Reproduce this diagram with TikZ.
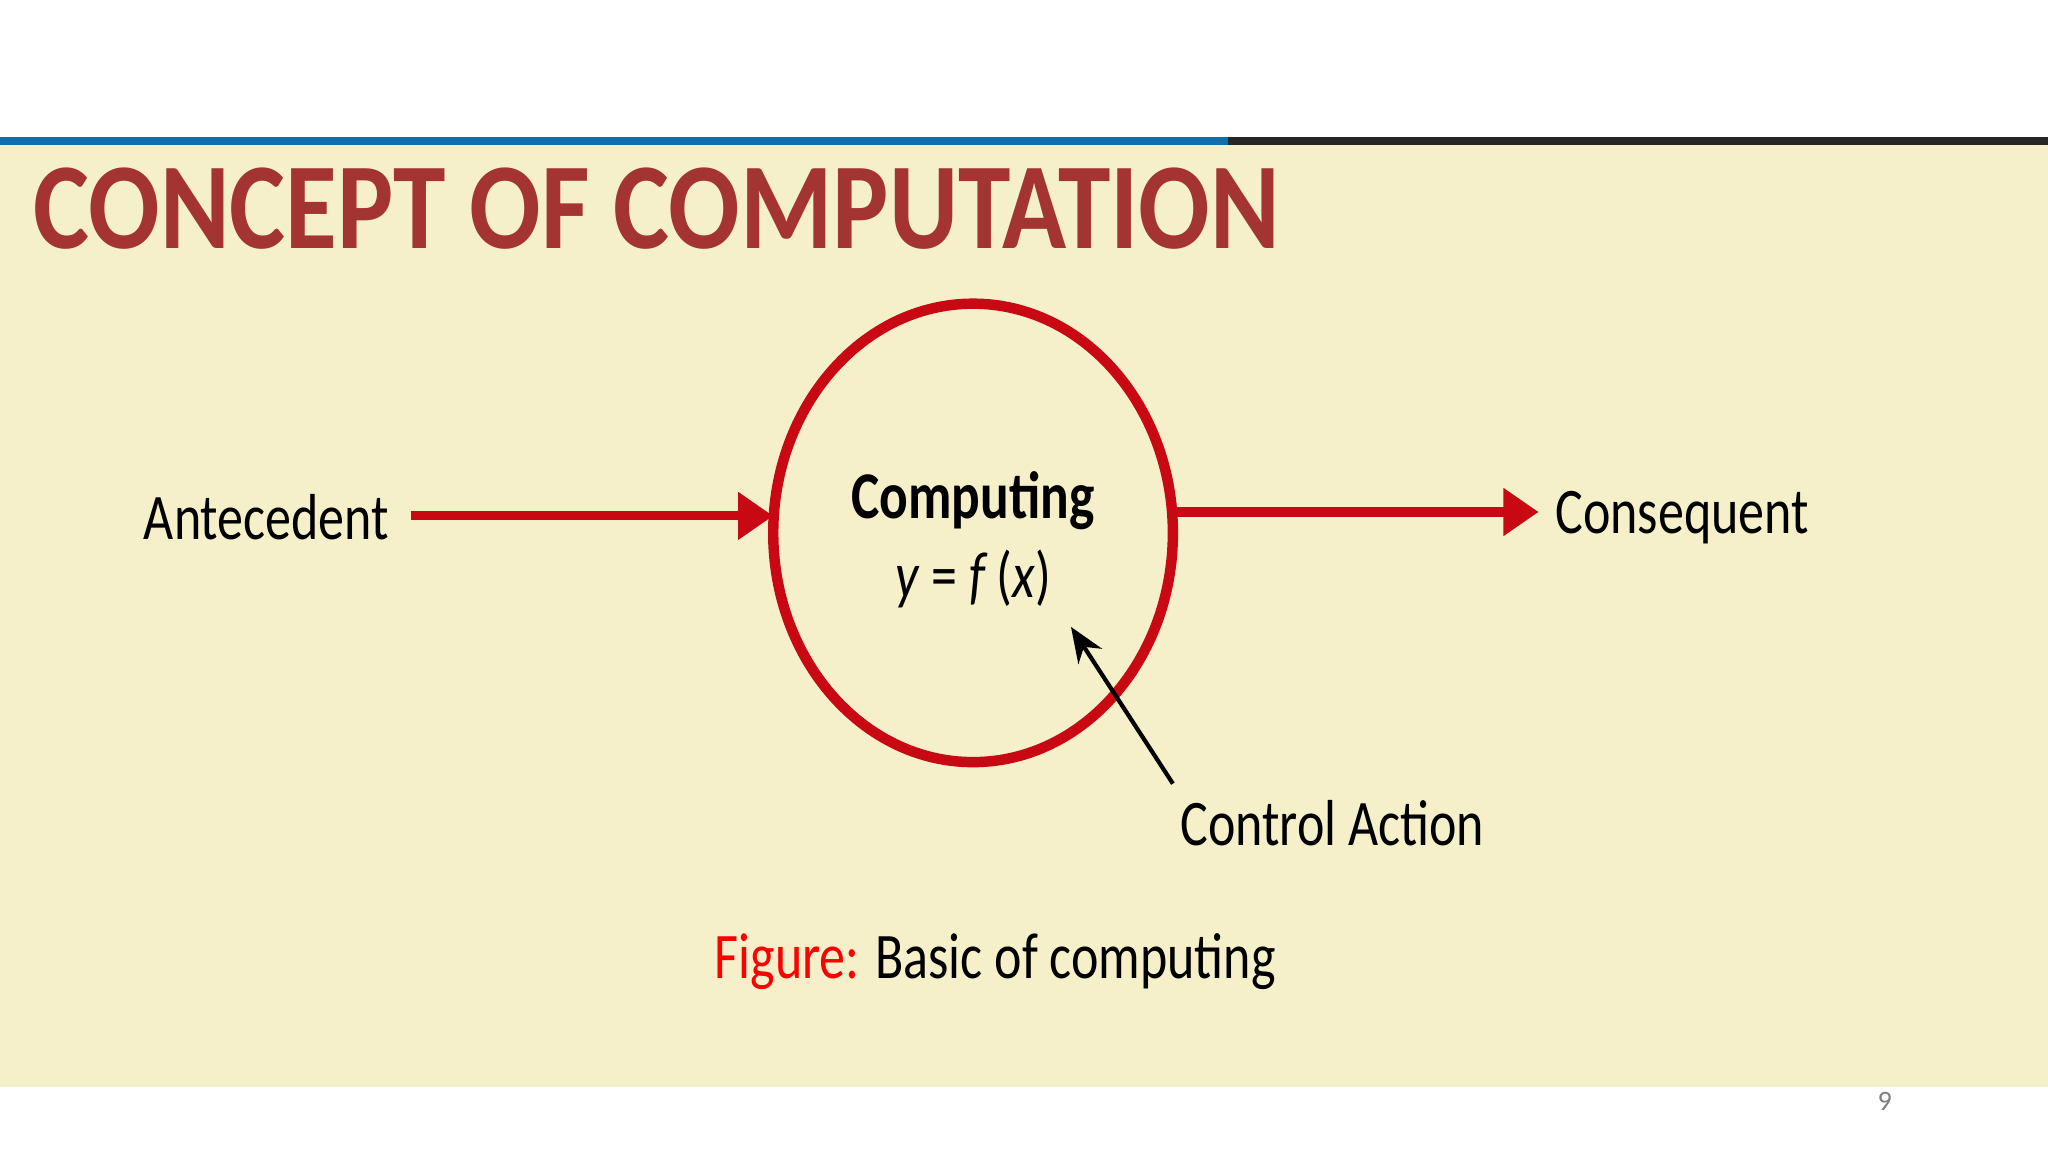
\documentclass[tikz,border=0pt]{standalone}
\usepackage{fontspec}
\setmainfont{Carlito}
\usetikzlibrary{arrows.meta,shapes.geometric}
\definecolor{beige}{RGB}{245,240,202}
\definecolor{tred}{RGB}{163,52,50}
\definecolor{ared}{RGB}{200,8,18}
\definecolor{tblue}{RGB}{18,110,170}
\newcommand{\narw}[1]{\scalebox{0.8}[1]{#1}}
\begin{document}
\begin{tikzpicture}[x=0.013061cm,y=-0.013061cm,
  lbl/.style={font=\fontsize{18.5}{22}\selectfont,inner sep=0},
  redarrow/.style={ared,line width=7*0.013061cm,-{Triangle[length=10pt,width=13pt]}}]
\useasboundingbox (0,0) rectangle (1568,882);
\fill[white] (0,0) rectangle (1568,882);
\fill[beige] (0,110) rectangle (1568,832);
\fill[tblue] (0,105) rectangle (940,111);
\fill[black!85] (940,105) rectangle (1568,111);
\node[anchor=west,inner sep=0,text=tred,font=\fontsize{35}{40}\selectfont\bfseries] (title) at (25,160) {\scalebox{0.86}[1]{CONCEPT OF COMPUTATION}};
\node[draw=ared,line width=8*0.013061cm,ellipse,minimum width=306*0.013061cm,minimum height=351*0.013061cm,inner sep=0] (c) at (745,408) {};
\node[lbl,font=\fontsize{19}{22}\selectfont\bfseries] (comp) at (745,383) {\narw{Computing}};
\node[lbl] (eq) at (745,443) {\narw{\textit{y} = \textit{f}\,(\textit{x})}};
\node[lbl] (ant) at (204,396) {\narw{Antecedent}};
\node[lbl] (con) at (1288,396) {\narw{Consequent}};
\node[lbl] (ctl) at (1020,630) {\narw{Control Action}};
\coordinate (a1) at (315,395);
\coordinate (a2) at (592,395);
\coordinate (b1) at (898,392);
\coordinate (b2) at (1178,392);
\draw[redarrow] (a1) -- (a2);
\draw[redarrow] (b1) -- (b2);
\coordinate (k1) at (898,600);
\coordinate (k2) at (820,480);
\draw[black,line width=1.2pt,-{Stealth[length=10pt,width=8pt]}] (k1) -- (k2);
\node[lbl] (fig) at (762,736) {\narw{\textcolor{red}{Figure:} Basic of computing}};
\node[inner sep=0,text=gray,font=\fontsize{8}{9}\selectfont] (pg) at (1443,843) {9};
\end{tikzpicture}
\end{document}
